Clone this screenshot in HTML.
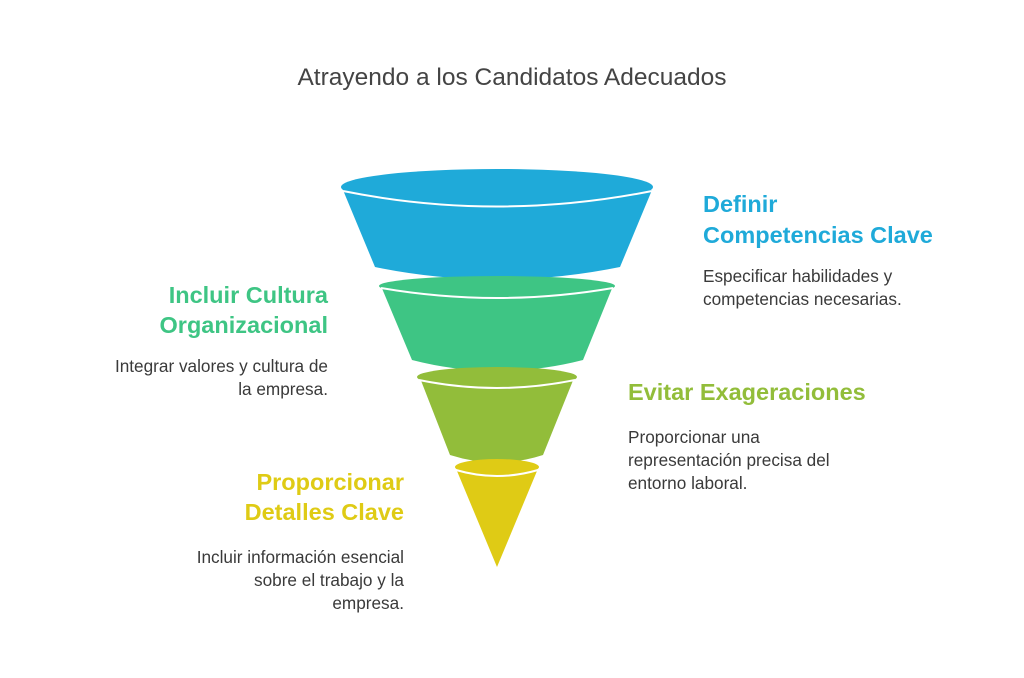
<!DOCTYPE html>
<html><head><meta charset="utf-8"><style>
html,body{margin:0;padding:0;background:#fff;}
svg{display:block;font-family:"Liberation Sans",sans-serif;}
.h{font-weight:bold;font-size:23.5px;}
.d{font-size:17.2px;fill:#3a3a3a;}
</style></head><body>
<svg width="1024" height="678" viewBox="0 0 1024 678">
<rect width="1024" height="678" fill="#fff"/>
<text x="512" y="85" text-anchor="middle" font-size="24.5" fill="#444">Atrayendo a los Candidatos Adecuados</text>

<path d="M343 190 L375 267 Q497 292 620 267 L652 190 Z" fill="#1faad9"/>
<ellipse cx="497" cy="187" rx="156" ry="18" fill="#1faad9"/>
<path d="M343 191 Q497 222 652 191" fill="none" stroke="#fff" stroke-width="2"/>
<path d="M381 286 L412 360 Q497 382 583 360 L613 286 Z" fill="#3ec584"/>
<ellipse cx="497" cy="286" rx="118" ry="10" fill="#3ec584"/>
<path d="M381 288 Q497 308 613 288" fill="none" stroke="#fff" stroke-width="2"/>
<path d="M420 378 L450 455 Q497 470 543 455 L574 378 Z" fill="#92bd3a"/>
<ellipse cx="497" cy="377" rx="80" ry="10" fill="#92bd3a"/>
<path d="M419 380 Q497 396 575 380" fill="none" stroke="#fff" stroke-width="2"/>
<path d="M457 471 L497 567 L537 471 Z" fill="#dfcb15"/>
<ellipse cx="497" cy="467" rx="42" ry="8" fill="#dfcb15"/>
<path d="M456 470 Q497 482 538 470" fill="none" stroke="#fff" stroke-width="2"/>

<text class="h" x="703" y="212" fill="#1faad9">Definir</text>
<text class="h" x="703" y="243" fill="#1faad9">Competencias Clave</text>
<text class="d" x="703" y="282">Especificar habilidades y</text>
<text class="d" x="703" y="305">competencias necesarias.</text>

<text class="h" x="328" y="303" fill="#3ec584" text-anchor="end">Incluir Cultura</text>
<text class="h" x="328" y="333" fill="#3ec584" text-anchor="end">Organizacional</text>
<text class="d" x="328" y="372" text-anchor="end">Integrar valores y cultura de</text>
<text class="d" x="328" y="395" text-anchor="end">la empresa.</text>

<text class="h" x="628" y="400" fill="#92bd3a">Evitar Exageraciones</text>
<text class="d" x="628" y="443">Proporcionar una</text>
<text class="d" x="628" y="466">representación precisa del</text>
<text class="d" x="628" y="489">entorno laboral.</text>

<text class="h" x="404" y="490" fill="#dfcb15" text-anchor="end">Proporcionar</text>
<text class="h" x="404" y="520" fill="#dfcb15" text-anchor="end">Detalles Clave</text>
<text class="d" x="404" y="563" text-anchor="end">Incluir información esencial</text>
<text class="d" x="404" y="586" text-anchor="end">sobre el trabajo y la</text>
<text class="d" x="404" y="609" text-anchor="end">empresa.</text>
</svg>
</body></html>
